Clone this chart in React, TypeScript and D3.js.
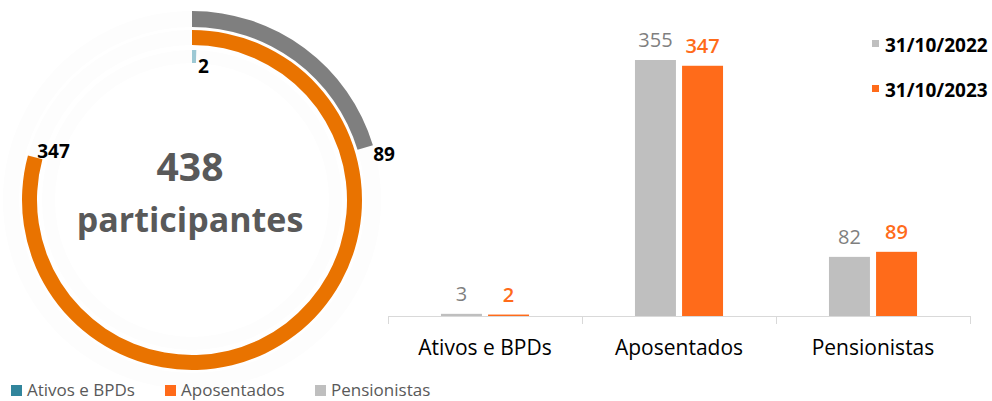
import React from "react";
import * as d3 from "d3";

// donut (31/10/2023)
const donutLabels = ["Ativos e BPDs", "Aposentados", "Pensionistas"];
const donutValues = [2, 347, 89];
const donutColors = ["#9CC8D4", "#E97300", "#7F7F7F"];

// bars
const categories = ["Ativos e BPDs", "Aposentados", "Pensionistas"];
const seriesNames = ["31/10/2022", "31/10/2023"];
const values2022 = [3, 355, 82];
const values2023 = [2, 347, 89];
const barColors = ["#BFBFBF", "#FF6B1A"];
const labelColors = ["#7F7F7F", "#FF6B1A"];

const legendColors = ["#31859C", "#FF6B1A", "#BFBFBF"];

const FONT = "'Open Sans', sans-serif";

export default function App() {
  const cx = 192, cy = 200;
  const total = d3.sum(donutValues);
  const angle = d3.scaleLinear().domain([0, total]).range([0, 2 * Math.PI]);

  // rings from inner to outer
  const rings = [
    { inner: 137, outer: 150 },
    { inner: 155, outer: 170 },
    { inner: 173, outer: 189 },
  ];
  // where each value label sits relative to the arc end
  const labelOffsets = [
    { dx: 2, dy: 16 },
    { dx: 2, dy: 1 },
    { dx: 8, dy: 13 },
  ];

  const arc = d3.arc<any>();

  const x0 = d3.scaleBand<string>().domain(categories).range([388, 970]).paddingInner(0.546).paddingOuter(0.273);
  const x1 = d3.scaleBand<string>().domain(seriesNames).range([0, x0.bandwidth()]).paddingInner(0.13);
  const y = d3.scaleLinear().domain([0, 355]).range([316, 60]);
  const series = [values2022, values2023];

  return (
    <svg width={992} height={401} style={{ position: "absolute", left: 0, top: 0, background: "#fff" }} fontFamily={FONT}>
      {/* donut */}
      <g transform={`translate(${cx},${cy})`}>
        {rings.map((r, i) => (
          <path key={"t" + i} d={arc({ innerRadius: r.inner, outerRadius: r.outer, startAngle: 0, endAngle: 2 * Math.PI }) || ""} fill="#FDFDFD" />
        ))}
        {donutValues.map((v, i) => (
          <path key={"a" + i} d={arc({ innerRadius: rings[i].inner, outerRadius: rings[i].outer, startAngle: 0, endAngle: angle(v) }) || ""} fill={donutColors[i]} />
        ))}
        {donutValues.map((v, i) => {
          const a = angle(v);
          const r = (rings[i].inner + rings[i].outer) / 2;
          const px = r * Math.sin(a), py = -r * Math.cos(a);
          return (
            <text key={"l" + i} x={px + labelOffsets[i].dx} y={py + labelOffsets[i].dy} fontSize={19} fontWeight={700} fill="#000">
              {v}
            </text>
          );
        })}
        <text x={-2} y={-19} textAnchor="middle" fontSize={39} fontWeight={700} fill="#595959">{total}</text>
        <text x={-2} y={32} textAnchor="middle" fontSize={34} fontWeight={700} fill="#595959">participantes</text>
      </g>

      {/* bottom legend */}
      {donutLabels.map((l, i) => {
        const lx = [11, 165, 315][i];
        return (
          <g key={"lg" + i}>
            <rect x={lx} y={385} width={11} height={11} fill={legendColors[i]} />
            <text x={lx + 16} y={396} fontSize={17} fill="#595959">{l}</text>
          </g>
        );
      })}

      {/* bar chart */}
      {categories.map((c, ci) => (
        <g key={c} transform={`translate(${x0(c)},0)`}>
          {series.map((s, si) => {
            const bx = x1(seriesNames[si])!;
            return (
              <g key={si}>
                <rect x={bx} y={y(s[ci])} width={x1.bandwidth()} height={y(0) - y(s[ci])} fill={barColors[si]} />
                <text x={bx + x1.bandwidth() / 2} y={y(s[ci]) - 13} textAnchor="middle" fontSize={20} fontWeight={si === 1 ? 600 : 400} fill={labelColors[si]}>
                  {s[ci]}
                </text>
              </g>
            );
          })}
          <text x={x0.bandwidth() / 2} y={355} textAnchor="middle" fontSize={21} fill="#000">{c}</text>
        </g>
      ))}
      <line x1={388} x2={970} y1={316.5} y2={316.5} stroke="#D9D9D9" />
      {[0, 1, 2, 3].map((i) => {
        const tx = Math.round(388 + x0.step() * i) + 0.5;
        return <line key={i} x1={tx} x2={tx} y1={316} y2={324} stroke="#D9D9D9" />;
      })}

      {/* right legend */}
      {seriesNames.map((n, i) => (
        <g key={n}>
          <rect x={872} y={40 + i * 45} width={7} height={7} fill={barColors[i]} />
          <text x={885} y={52 + i * 45} fontSize={19} fontWeight={700} fill="#000">{n}</text>
        </g>
      ))}
    </svg>
  );
}
